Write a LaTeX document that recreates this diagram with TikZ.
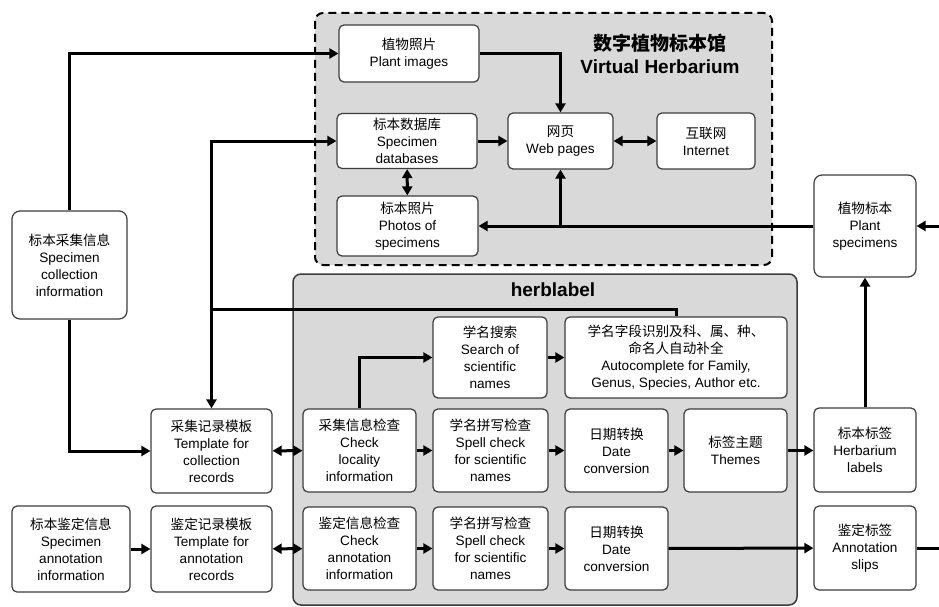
\documentclass[tikz,border=0pt]{standalone}
\usepackage{fontspec}
\setmainfont{Liberation Sans}
\newfontfamily\cjk{Noto Sans CJK SC}
\usetikzlibrary{arrows.meta}
\definecolor{bgrau}{RGB}{217,217,217}
\definecolor{rand}{RGB}{60,60,60}
\newcommand{\zh}[1]{{\cjk #1}}
\tikzset{
  blk/.style={draw=rand,line width=1.2pt,fill=white,rounded corners=5pt,align=center,
    inner sep=1pt,font=\fontsize{13.6}{17}\selectfont},
  sz/.style 2 args={minimum width=#1pt,minimum height=#2pt},
  arr/.style={line width=3pt,-{Triangle[length=9pt,width=10pt]}},
  darr/.style={line width=3pt,{Triangle[length=9pt,width=10pt]}-{Triangle[length=9pt,width=10pt]}},
  lin/.style={line width=3pt},
  titel/.style={font=\bfseries\fontsize{19}{23}\selectfont,align=center},
}

\begin{document}
\begin{tikzpicture}[x=1pt,y=-1pt]
  \useasboundingbox (0,0) rectangle (939,607);
  % the two grey frames
  \draw[draw=black,fill=bgrau,line width=2pt,dash pattern=on 8pt off 5pt,rounded corners=8pt]
    (315,13) rectangle (772,265);
  \draw[draw=rand,fill=bgrau,line width=1.5pt,rounded corners=8pt]
    (293,274) rectangle (797,605);
  \node[titel] (vhtitle) at (660,54) {\zh{数字植物标本馆}\\Virtual Herbarium};
  \node[titel] (hltitle) at (553,290) {herblabel};

  % Virtual Herbarium
  \node[blk,sz={140}{57}] (plantimg) at (409,53.5) {\zh{植物照片}\\Plant images};
  \node[blk,sz={140}{55}] (specdb) at (407,141) {\zh{标本数据库}\\Specimen\\databases};
  \node[blk,sz={141}{60}] (photos) at (407.5,226) {\zh{标本照片}\\Photos of\\specimens};
  \node[blk,sz={105}{56}] (webpg) at (560.5,141) {\zh{网页}\\Web pages};
  \node[blk,sz={98}{56}] (internet) at (706,141) {\zh{互联网}\\Internet};

  % left column
  \node[blk,sz={115}{108},rounded corners=8pt] (collinfo) at (69.5,265)
    {\zh{标本采集信息}\\Specimen\\collection\\information};
  \node[blk,sz={118}{86}] (anninfo) at (71,549)
    {\zh{标本鉴定信息}\\Specimen\\annotation\\information};
  \node[blk,sz={121}{84}] (colltpl) at (211.5,451)
    {\zh{采集记录模板}\\Template for\\collection\\records};
  \node[blk,sz={121}{86}] (anntpl) at (211.5,549)
    {\zh{鉴定记录模板}\\Template for\\annotation\\records};

  % herblabel
  \node[blk,sz={114}{81}] (search) at (490,357.5)
    {\zh{学名搜索}\\Search of\\scientific\\names};
  \node[blk,sz={222}{81}] (autoc) at (676,357.5)
    {\zh{学名字段识别及科、属、种、}\\\zh{命名人自动补全}\\Autocomplete for Family,\\Genus, Species, Author etc.};
  \node[blk,sz={113}{83}] (chkloc) at (359.5,450.5)
    {\zh{采集信息检查}\\Check\\locality\\information};
  \node[blk,sz={115}{83}] (spell1) at (490.5,450.5)
    {\zh{学名拼写检查}\\Spell check\\for scientific\\names};
  \node[blk,sz={103}{83}] (date1) at (616.5,450.5) {\zh{日期转换}\\Date\\conversion};
  \node[blk,sz={103}{83}] (themes) at (735.5,450.5) {\zh{标签主题}\\Themes};
  \node[blk,sz={113}{83}] (chkann) at (359.5,548.5)
    {\zh{鉴定信息检查}\\Check\\annotation\\information};
  \node[blk,sz={115}{83}] (spell2) at (490.5,548.5)
    {\zh{学名拼写检查}\\Spell check\\for scientific\\names};
  \node[blk,sz={103}{83}] (date2) at (616.5,548.5) {\zh{日期转换}\\Date\\conversion};

  % right column
  \node[blk,sz={102}{102},rounded corners=8pt] (specimens) at (865,226)
    {\zh{植物标本}\\Plant\\specimens};
  \node[blk,sz={102}{84}] (hlabels) at (865,450) {\zh{标本标签}\\Herbarium\\labels};
  \node[blk,sz={102}{84}] (slips) at (865,548) {\zh{鉴定标签}\\Annotation\\slips};

  \coordinate (jn) at (211.5,309);
  \coordinate (edgelo) at (939,548);
  \coordinate (edgehi) at (939,226);
  \coordinate (br) at (webpg.south |- photos.east);

  % connectors
  \draw[arr] (collinfo.north) |- (plantimg.west);
  \draw[arr] (collinfo.south) |- (colltpl.west);
  \draw[arr] (anninfo) -- (anntpl);
  \draw[lin] (autoc.north) |- (jn);
  \draw[arr] (jn) |- (specdb.west);
  \draw[arr] (jn) -- (colltpl.north);
  \draw[arr] (plantimg.east) -| (webpg.north);
  \draw[arr] (specdb) -- (webpg);
  \draw[darr] (webpg) -- (internet);
  \draw[darr] (specdb) -- (photos);
  \draw[arr] (specimens.west) -- (photos.east);
  \draw[arr] (br) -- (webpg.south);
  \draw[darr] (colltpl) -- (chkloc);
  \draw[darr] (anntpl) -- (chkann);
  \draw[arr] (chkloc.north) |- (search.west);
  \draw[arr] (search) -- (autoc);
  \draw[arr] (chkloc) -- (spell1);
  \draw[arr] (spell1) -- (date1);
  \draw[arr] (date1) -- (themes);
  \draw[arr] (themes.east) -- (hlabels.west |- themes.east);
  \draw[arr] (hlabels) -- (specimens);
  \draw[arr] (chkann) -- (spell2);
  \draw[arr] (spell2) -- (date2);
  \draw[arr] (date2) -- (slips);
  \draw[lin] (slips) -- (edgelo);
  \draw[arr] (edgehi) -- (specimens);
\end{tikzpicture}
\end{document}
